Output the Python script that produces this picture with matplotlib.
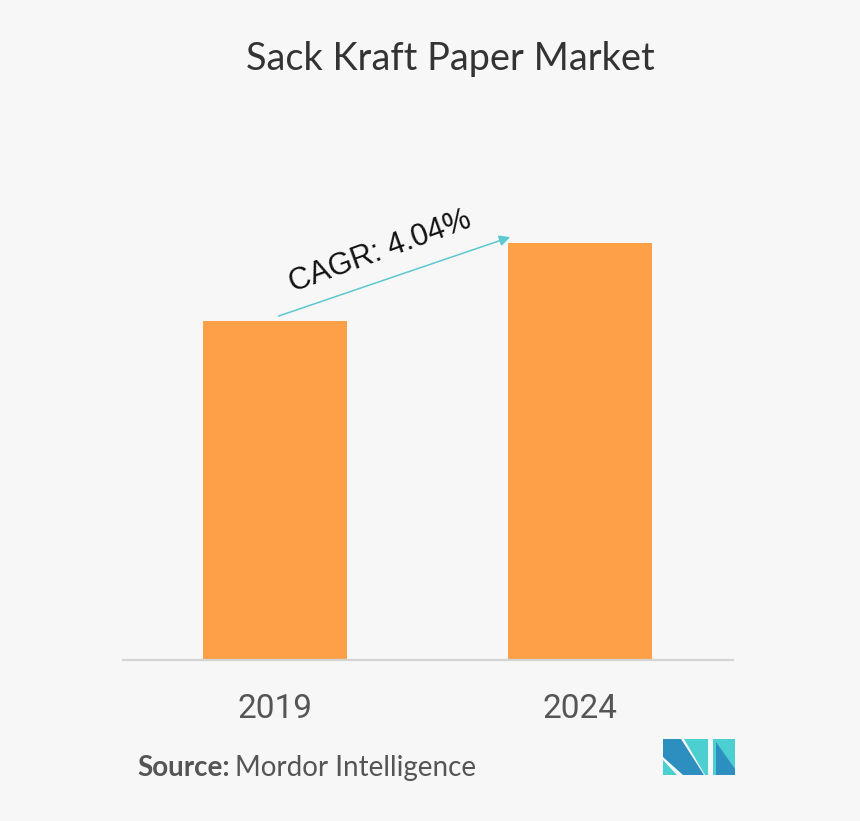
import numpy as np
import matplotlib.pyplot as plt
from matplotlib.patches import Polygon

# Data
years = ["2019", "2024"]
values = [339, 417]
cagr_label = "CAGR: 4.04%"

bg = "#f7f7f7"
bar_color = "#fea048"

fig = plt.figure(figsize=(8.6, 8.21), dpi=100, facecolor=bg)
ax = fig.add_axes([0.143, 0.196, 0.709, 0.609], facecolor=bg)

x = np.arange(len(years))
ax.bar(x, values, width=0.472, color=bar_color, zorder=2)
ax.set_xlim(-0.5, 1.5)
ax.set_ylim(0, 500)

for side in ["top", "right", "left"]:
    ax.spines[side].set_visible(False)
ax.spines["bottom"].set_color("#d4d4d4")
ax.spines["bottom"].set_linewidth(1.6)
ax.set_yticks([])
ax.set_xticks(x)
ax.set_xticklabels(years, fontsize=24, color="#555555", family="Roboto")
ax.tick_params(axis="x", length=0, pad=24)

# CAGR arrow between the bars
ax.annotate("", xy=(x[1] - 0.23, values[1] + 6), xytext=(x[0] + 0.01, values[0] + 5),
            arrowprops=dict(arrowstyle="-|>", color="#5cc8d0", lw=1.1,
                            mutation_scale=16, shrinkA=0, shrinkB=0))
ax.text(0.345, 408, cagr_label, rotation=20, fontsize=22, family="Liberation Sans",
        color="#111111", ha="center", va="center", rotation_mode="anchor")

# Title and source
fig.text(0.524, 0.928, "Sack Kraft Paper Market", fontsize=27.3, color="#333333",
         family="Lato", ha="center", va="center")
t1 = fig.text(0.160, 0.065, "Source:", fontsize=20, color="#555555", family="Lato",
              weight="bold", ha="left", va="center")
fig.canvas.draw()
bb = t1.get_window_extent()
fig.text(bb.x1 / fig.bbox.width + 0.006, 0.065, "Mordor Intelligence", fontsize=20,
         color="#555555", family="Lato", ha="left", va="center")

# Logo (pixel coords, top-left origin)
W, H = 860, 821
def px(pts):
    return [(a / W, 1 - b / H) for a, b in pts]

dark = "#2d8fc0"
teal = "#4ccfd0"
shapes = [
    ([(663, 760), (663, 775), (677, 775)], teal),
    ([(663, 739), (681, 739), (704, 775), (683, 775), (663, 757)], dark),
    ([(684, 739), (708, 739), (708, 775), (705, 775)], teal),
    ([(713, 739), (735, 739), (735, 775), (713, 775)], teal),
    ([(716, 742), (735, 769), (735, 775), (716, 775)], dark),
]
for pts, c in shapes:
    fig.patches.append(Polygon(px(pts), closed=True, transform=fig.transFigure,
                               facecolor=c, edgecolor="none"))

fig.savefig("out.png", dpi=100, facecolor=bg)
